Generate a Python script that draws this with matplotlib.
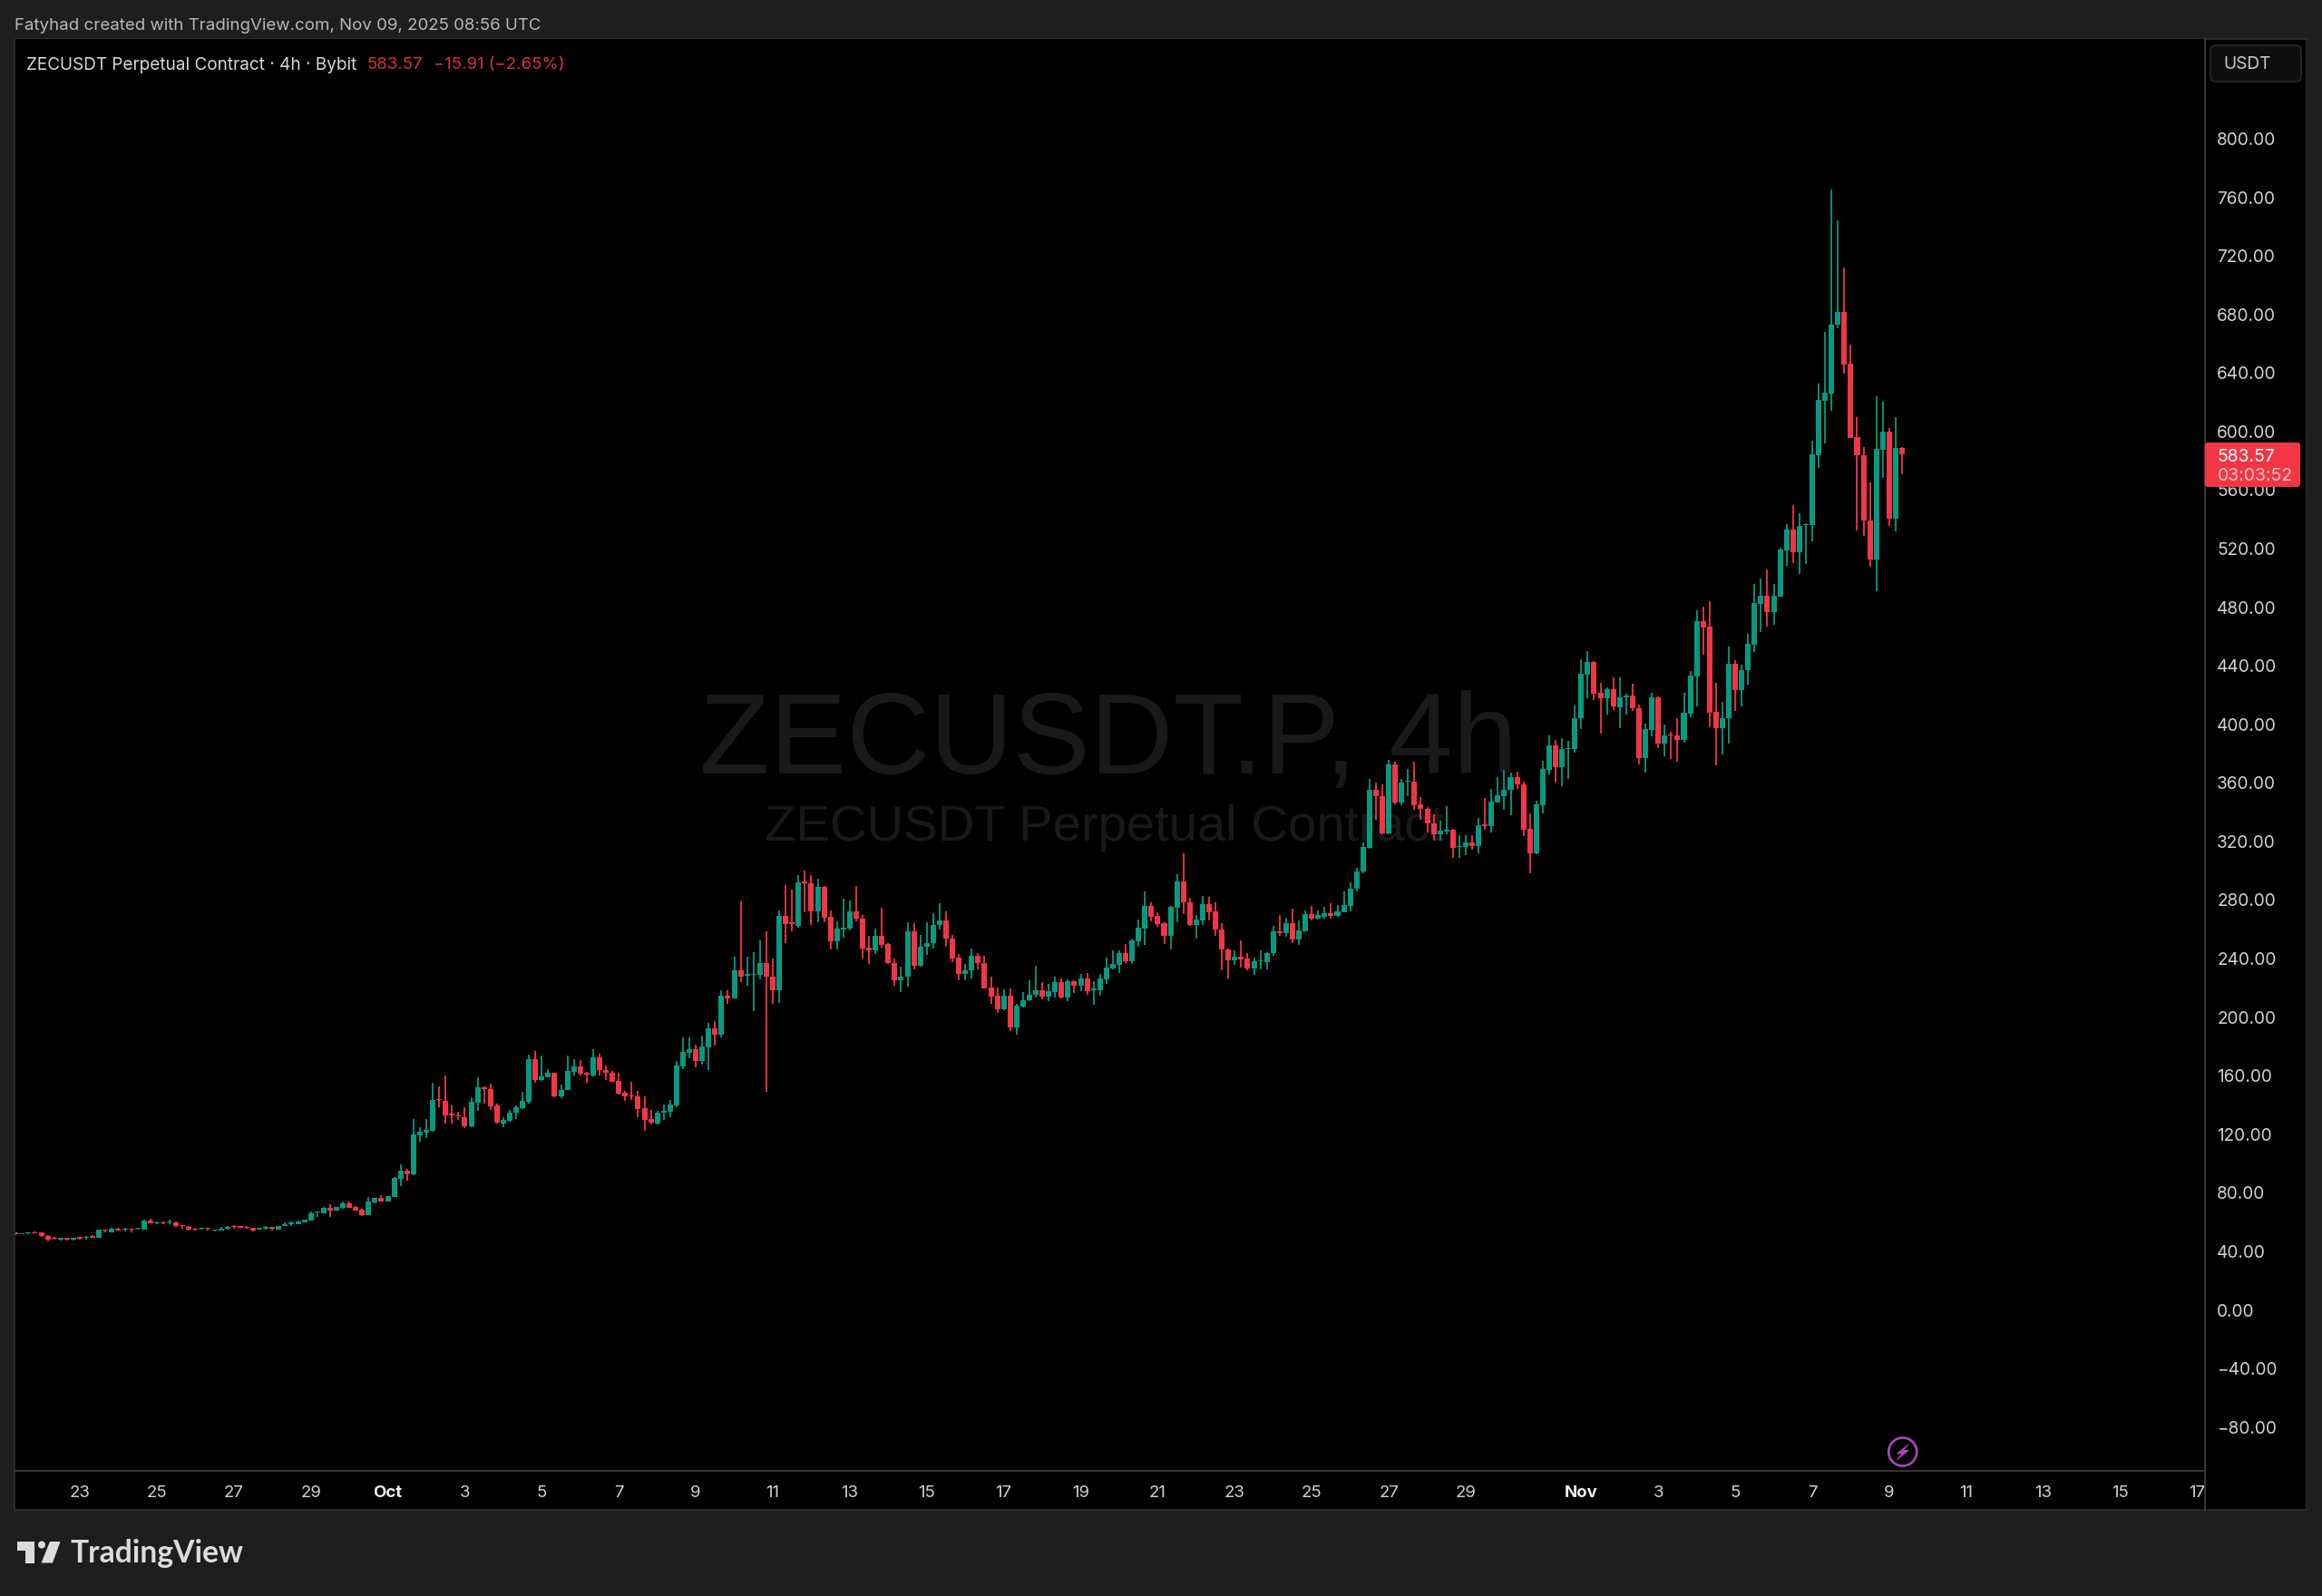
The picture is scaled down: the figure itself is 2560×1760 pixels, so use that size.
import matplotlib
matplotlib.use("Agg")
import matplotlib.pyplot as plt
from matplotlib.patches import Rectangle, FancyBboxPatch, Circle, Polygon
from matplotlib.transforms import Bbox, Affine2D

# ---------- data (4h candles, first bar is 10 bars before Sep 23 00:00) ----------
opens = [
52.0,51.1,51.6,52.4,52.0,49.9,48.7,47.4,48.2,47.0,
48.9,48.7,49.7,48.5,54.2,52.4,54.9,53.8,54.6,54.4,
54.2,60.2,58.2,59.2,58.8,59.2,57.1,55.7,54.6,54.4,
55.3,53.4,53.6,54.4,56.7,56.3,56.1,55.3,54.2,54.6,
55.7,54.2,56.7,57.7,57.7,59.2,60.2,65.6,65.4,69.1,
67.0,68.7,72.0,69.7,67.7,64.0,72.8,75.5,73.4,76.3,
88.7,94.5,
91.8,118.5,120.3,121.8,143.4,141.8,133.1,132.3,131.0,124.7,
141.0,151.3,150.3,138.9,126.7,128.2,133.8,137.0,141.4,170.3,
156.0,158.1,161.0,144.9,149.5,161.8,165.6,161.0,159.6,171.8,
163.3,161.4,155.6,147.8,145.7,144.9,137.0,129.8,126.5,133.8,
134.6,139.0,165.8,174.6,177.5,169.3,178.6,191.8,187.5,213.9,
212.0,231.4,227.7,228.1,228.1,236.4,227.1,217.8,268.4,263.8,
261.8,292.0,290.7,271.5,288.4,267.8,251.0,259.1,260.0,271.7,
266.7,246.7,244.9,255.0,249.2,236.4,224.2,226.7,257.9,234.1,
247.1,249.8,262.0,265.3,252.9,239.9,229.0,231.2,241.1,236.4,
219.2,213.9,204.4,213.9,192.0,206.5,210.6,214.5,217.6,213.1,
216.6,223.2,212.6,223.6,220.7,225.4,217.8,217.8,
225.0,232.3,235.1,242.8,237.2,251.0,260.0,275.0,268.2,263.4,
255.0,274.2,292.1,277.9,262.4,265.3,276.4,271.5,259.3,245.7,
237.8,240.7,239.3,232.5,237.2,237.0,242.8,257.9,256.6,263.2,
252.1,257.9,269.6,266.3,268.0,270.0,268.2,271.0,275.0,286.8,
298.5,314.8,354.3,350.4,324.5,372.0,345.8,359.9,360.3,344.4,
341.7,331.8,324.1,326.2,327.2,315.2,315.5,318.3,316.1,330.9,
329.5,346.0,350.4,354.5,362.9,358.0,327.8,311.3,343.9,367.9,
384.6,370.0,382.1,382.1,403.2,433.2,441.8,420.8,417.0,423.2,
411.0,417.7,418.7,410.4,375.9,395.4,417.9,386.0,392.5,391.4,
388.5,406.7,432.1,469.7,465.8,407.5,396.4,403.2,440.8,422.4,
436.0,453.6,481.5,487.2,475.7,486.4,518.2,532.2,517.0,535.1,
535.1,583.2,620.4,625.4,672.0,681.1,645.4,595.4,583.2,538.6,
511.6,586.8,599.3,539.9,588.2]
highs = [
52.2,51.9,52.5,52.6,52.2,50.2,49.3,48.3,48.4,48.5,
49.1,49.5,50.3,53.9,54.3,55.2,55.5,55.5,54.8,55.4,
60.6,61.3,59.6,59.4,60.8,59.4,57.3,56.3,55.3,55.4,
55.5,54.3,55.7,56.3,57.0,56.7,56.3,55.5,55.2,56.7,
55.9,56.7,58.8,59.4,60.4,61.0,66.4,66.7,69.7,71.2,
69.7,73.2,73.0,70.1,68.5,76.3,75.7,77.4,77.3,89.8,
98.4,95.6,
129.6,124.3,129.4,154.4,152.1,159.4,138.9,134.6,137.5,144.5,
157.9,152.0,153.8,140.4,131.0,135.6,138.7,148.0,173.4,176.1,
172.8,163.5,161.4,153.2,172.8,170.3,169.7,161.6,177.1,174.2,
166.2,162.5,161.0,148.6,155.0,148.6,145.4,135.6,135.2,139.3,
142.4,169.3,185.4,185.4,180.6,186.4,195.1,196.3,217.6,217.6,
240.7,278.0,240.7,243.6,251.9,257.7,239.5,272.1,289.4,286.4,
296.3,299.6,296.3,293.8,288.8,272.1,264.7,280.0,279.0,288.8,
268.8,255.0,260.0,273.8,249.6,239.5,233.5,264.1,263.2,255.4,
264.3,270.0,277.0,271.5,255.4,242.4,235.4,246.1,243.2,241.1,
226.7,219.7,218.2,218.8,208.3,216.4,224.6,234.3,223.0,222.1,
227.1,225.4,225.0,224.5,229.0,229.2,223.6,228.5,
239.9,244.6,245.0,249.0,252.1,265.7,284.9,277.7,271.0,263.9,
275.2,296.7,311.1,280.6,269.2,281.8,281.2,277.9,263.2,246.0,
244.6,251.9,243.2,239.7,244.6,243.6,261.8,269.0,267.1,273.1,
265.3,271.9,275.0,271.9,274.4,277.0,276.0,284.9,291.5,301.4,
318.3,361.7,359.6,358.2,375.1,373.7,361.7,368.9,373.7,349.5,
343.0,338.0,333.6,343.5,327.6,323.7,323.7,323.5,335.0,348.9,
355.3,363.4,367.9,366.0,366.9,360.3,338.2,346.8,374.3,391.6,
388.5,390.0,387.9,412.1,443.5,449.2,442.2,427.6,424.7,431.5,
431.5,420.3,426.8,412.9,399.7,420.8,418.3,398.9,393.9,403.2,
420.8,435.6,477.1,479.6,483.3,427.6,414.6,452.1,442.8,439.8,
461.0,494.9,498.6,505.0,495.0,519.7,535.8,549.0,543.6,536.8,
592.9,632.2,667.3,764.3,743.3,711.3,658.6,609.0,588.6,564.5,
623.3,619.4,601.8,609.0,588.4]
lows = [
50.5,51.0,51.0,51.5,49.4,46.0,47.4,46.8,46.8,46.9,
47.4,47.4,48.6,48.4,52.2,52.3,53.5,52.8,52.2,54.3,
54.1,58.3,57.8,57.8,57.8,55.9,54.6,53.7,53.6,54.3,
53.6,53.0,53.5,54.3,54.6,55.4,54.6,53.0,54.1,54.0,
53.6,54.1,56.6,56.7,57.6,59.1,60.1,62.9,65.3,62.5,
66.9,68.6,69.0,66.9,63.4,63.9,72.0,73.1,73.3,76.2,
84.0,87.3,
91.5,114.1,116.6,121.2,137.7,126.3,126.7,128.8,123.6,124.3,
135.2,140.2,135.6,126.7,124.3,128.0,129.6,136.2,140.0,154.6,
155.8,157.9,144.8,144.0,149.3,159.6,159.6,154.6,158.5,159.6,
156.5,155.0,146.6,142.0,142.4,130.7,121.8,126.0,126.0,129.2,
131.1,137.7,164.0,171.0,165.0,167.0,163.1,179.6,185.4,208.1,
211.8,223.2,220.7,203.6,225.0,148.4,208.1,209.1,250.0,258.1,
260.5,270.9,262.2,264.3,264.3,245.3,245.7,253.5,258.5,264.7,
239.3,235.4,242.4,246.5,235.6,220.7,216.4,220.0,232.0,234.0,
241.8,246.1,258.9,247.1,237.0,224.2,224.2,225.9,232.0,218.6,
208.1,202.3,204.0,189.5,187.0,205.6,210.4,212.4,211.6,210.0,
212.8,212.3,210.0,215.5,217.2,214.7,208.0,213.7,
221.9,231.6,229.2,236.4,235.4,247.3,248.8,264.9,261.2,249.4,
245.2,264.2,269.6,261.4,253.1,262.4,265.3,254.9,231.2,225.9,
234.9,232.9,231.0,228.3,231.6,232.1,240.9,254.8,254.1,249.8,
248.8,257.7,265.3,265.9,266.3,266.7,268.0,270.8,271.7,284.9,
297.3,314.2,333.8,324.3,324.3,344.8,344.0,350.0,340.6,334.0,
325.2,319.6,320.0,324.1,308.2,308.0,309.9,313.8,310.9,327.2,
325.4,345.8,340.6,336.9,355.1,323.1,297.7,310.3,338.6,365.0,
359.2,356.7,361.7,379.9,396.0,417.0,416.0,392.9,406.1,409.2,
396.8,406.1,408.2,372.0,366.0,391.0,382.8,377.4,375.7,373.5,
386.7,404.2,411.5,447.0,397.4,371.0,378.9,386.3,408.2,411.7,
426.3,448.8,462.0,466.0,467.4,486.2,507.7,509.5,502.1,508.9,
524.2,574.6,591.3,613.6,670.0,639.0,594.6,531.8,528.1,507.1,
489.9,567.8,534.9,531.0,570.2]
closes = [
50.7,51.8,52.4,51.6,49.5,47.4,47.6,48.2,47.4,48.4,
47.8,49.3,48.7,53.8,53.4,54.9,53.6,54.6,53.8,55.3,
60.2,58.4,59.2,58.2,59.8,56.3,56.5,53.8,54.0,55.3,
54.4,54.2,54.9,56.1,55.9,55.5,55.3,53.4,55.1,55.9,
54.6,56.3,57.7,58.8,59.8,60.8,65.4,66.4,68.9,67.2,
69.5,72.2,69.1,67.0,64.0,73.4,75.5,73.2,77.0,89.1,
94.3,91.8,
119.1,120.9,122.4,142.8,142.6,132.3,132.3,131.5,124.9,141.4,
151.3,149.9,138.5,126.9,128.8,134.0,137.5,142.0,170.3,156.0,
159.0,161.0,144.9,149.7,162.4,165.6,160.6,160.0,171.8,163.0,
161.0,155.2,147.2,144.9,144.9,136.7,129.2,127.0,134.2,135.2,
139.3,166.4,175.3,177.5,169.3,179.2,191.8,187.5,213.9,212.0,
231.4,226.7,228.5,229.0,236.4,226.7,217.8,268.4,262.8,263.0,
291.3,290.9,271.5,288.4,267.2,251.0,259.5,260.3,271.7,266.3,
246.0,244.9,255.0,248.6,236.0,224.2,226.9,257.9,234.1,247.5,
249.8,262.2,265.3,252.7,239.3,229.0,231.4,241.1,236.2,218.8,
213.5,204.6,213.9,192.0,207.1,210.8,214.7,217.8,213.1,216.8,
223.0,212.6,223.8,220.7,225.4,217.0,218.8,225.6,
232.9,235.4,242.8,237.2,251.5,260.3,275.0,267.6,262.6,255.0,
274.6,292.1,277.7,262.2,265.7,276.4,271.0,259.1,245.3,237.8,
240.7,238.9,232.5,237.2,238.0,243.2,257.9,256.6,263.2,252.1,
258.3,269.4,266.3,268.8,270.0,268.2,271.5,275.6,287.2,299.0,
315.5,354.3,350.0,324.5,372.0,345.8,359.2,360.7,343.9,341.3,
331.4,324.1,326.4,327.2,314.8,316.1,318.3,316.1,330.1,329.9,
346.4,350.6,354.7,362.9,358.0,327.4,311.3,344.4,368.5,384.6,
370.0,382.6,382.9,403.6,433.6,441.8,420.3,417.0,423.2,411.3,
417.9,418.7,410.2,375.9,395.8,417.9,386.0,391.8,391.6,388.5,
407.1,432.5,469.7,465.3,407.1,396.4,403.6,440.8,422.4,436.2,
454.0,481.9,487.2,475.7,486.8,518.6,532.2,517.0,534.7,536.2,
583.7,620.8,625.8,672.2,681.1,645.2,595.0,582.8,538.4,511.6,
587.2,599.3,539.9,588.2,583.57]
first_bar = -10
price_ticks = list(range(-80, 801, 40))
time_tick_bars = [0,12,24,36,48,60,72,84,96,108,120,132,144,156,168,180,192,204,216,234,246,258,270,282,294,306,318,330]
time_tick_labels = ["23","25","27","29","Oct","3","5","7","9","11","13","15","17","19","21","23","25","27","29","Nov","3","5","7","9","11","13","15","17"]
last_price = 583.57
title_text = "ZECUSDT Perpetual Contract · 4h · Bybit"
assert len(opens) == len(highs) == len(lows) == len(closes) == 295

# ---------- styling ----------
W, H = 2560, 1760
GREEN, RED = "#089981", "#F23645"
BG, CHART = "#1E1E1E", "#000000"
LINE, FRAME = "#434343", "#2E2E2E"
TXT = "#D1D1D1"
FONT = ["Inter", "DejaVu Sans"]
plt.rcParams["font.family"] = FONT

fig = plt.figure(figsize=(W/100, H/100), dpi=100, facecolor=BG)
def px_rect(l, t, r, b):
    return [l/W, 1-b/H, (r-l)/W, (b-t)/H]
def T(x, y, s, **kw):
    kw.setdefault("va", "center")
    return fig.text(x/W, 1-y/H, s, **kw)
pix = Affine2D().scale(1, -1).translate(0, H)   # pixels from top-left

# outer frame
fig.add_artist(Rectangle((16, 42.5), 2527, 1622, transform=pix, fc=CHART, ec=FRAME, lw=1.2, zorder=0))

# main pane
L, R, TOP, BOT = 16.5, 2431, 43, 1621.5
ax = fig.add_axes(px_rect(L, TOP, R, BOT), facecolor=CHART)
ppd, x0 = 7.074, 88.0
ax.set_xlim((L-x0)/ppd, (R-x0)/ppd)
pp, y0 = 1.6144, 1443.3
ax.set_ylim((y0-BOT)/pp, (y0-TOP)/pp)

# watermark
ax.text(0.4991, 0.508, "ZECUSDT.P, 4h", transform=ax.transAxes, family="Liberation Sans", fontsize=91.5,
        color="#19191C", ha="center", va="center", zorder=1)
ax.text(0.4974, 0.449, "ZECUSDT Perpetual Contract", transform=ax.transAxes, family="Liberation Sans", fontsize=40.5,
        color="#19191C", ha="center", va="center", zorder=1)

# candles
idx = [first_bar + i for i in range(len(opens))]
colors = [GREEN if c >= o else RED for o, c in zip(opens, closes)]
ax.vlines(idx, lows, highs, colors=colors, lw=1.3, zorder=3)
ax.bar(idx, [abs(c-o) for o, c in zip(opens, closes)], bottom=[min(o, c) for o, c in zip(opens, closes)],
       width=0.85, color=colors, lw=0, zorder=4)

# axes
for s in ("top", "left"):
    ax.spines[s].set_visible(False)
for s in ("right", "bottom"):
    ax.spines[s].set_color(LINE)
    ax.spines[s].set_linewidth(1.2)
ax.yaxis.tick_right()
ax.set_yticks(price_ticks)
ax.set_yticklabels([f"{v:.2f}".replace("-", "\u2212") for v in price_ticks], ha="left", color=TXT, fontsize=13.7)
ax.tick_params(axis="y", length=0, pad=9.5)
ax.set_xticks(time_tick_bars)
ax.set_xticklabels(time_tick_labels, color=TXT, fontsize=13.4)
ax.tick_params(axis="x", length=0, pad=12)
clip = Bbox.from_extents(0, 0, R, H)
for lb in ax.get_xticklabels():
    lb.set_clip_box(clip)
    lb.set_clip_on(True)
    if lb.get_text() in ("Oct", "Nov"):
        lb.set_fontweight("bold")
        lb.set_color("#F0F0F0")
for lb in ax.get_yticklabels():
    lb.set_transform(lb.get_transform() + Affine2D().translate(0, -1.2))
ax.set_zorder(2)

# separator through the time axis
fig.add_artist(plt.Line2D([R, R], [BOT, 1664.5], transform=pix, color=LINE, lw=1.2, zorder=5))

# header & legend
T(16, 28.5, "Fatyhad created with TradingView.com, Nov 09, 2025 08:56 UTC", color="#B8B8B8", fontsize=13.45)
T(29, 72, title_text, color="#D6D6D6", fontsize=13.65)
T(405, 72, f"{last_price:.2f}", color="#D9303E", fontsize=13.4)
T(478, 72, "\u221215.91 (\u22122.65%)", color="#D9303E", fontsize=13.4)

# currency button
fig.add_artist(FancyBboxPatch((2437, 50), 100, 40, boxstyle="round,pad=0,rounding_size=6", transform=pix,
                              fc="#0F0F0F", ec="#2A2A2A", lw=1.2, zorder=6))
T(2451, 71, "USDT", color="#C8C8C8", fontsize=13.8, zorder=7)

# price tag
fig.add_artist(FancyBboxPatch((2431, 488), 105, 49, boxstyle="round,pad=0,rounding_size=3", transform=pix,
                              fc=RED, ec="none", zorder=6))
T(2445, 504, f"{last_price:.2f}", color="#FFFFFF", fontsize=14, zorder=7)
T(2445, 525.5, "03:03:52", color="#FFC4CA", fontsize=14, zorder=7)

# bolt marker
PUR = "#AB47BC"
fig.add_artist(Circle((2097.7, 1601), 15.5, transform=pix, fc="none", ec=PUR, lw=1.9, zorder=6))
fig.add_artist(Polygon([(2104, 1593), (2091.5, 1603), (2097.5, 1603), (2091.5, 1609.5), (2104, 1599.5), (2098, 1599.5)],
                       closed=True, transform=pix, fc=PUR, ec=PUR, lw=0.7, zorder=6))

# logo
LOGO = "#DCDCDC"
fig.add_artist(Polygon([(19, 1700), (38, 1700), (38, 1723.5), (28, 1723.5), (28, 1710), (19, 1710)], closed=True,
                       transform=pix, fc=LOGO, ec="none", zorder=6))
fig.add_artist(Circle((46, 1703.5), 4, transform=pix, fc=LOGO, ec="none", zorder=6))
fig.add_artist(Polygon([(55, 1700), (66.5, 1700), (58, 1723.5), (45.5, 1723.5)], closed=True,
                       transform=pix, fc=LOGO, ec="none", zorder=6))
T(77, 1713, "TradingView", color=LOGO, fontsize=24.2, fontweight="bold", family=["Lato", "DejaVu Sans"])

fig.savefig("out.png", dpi=100, facecolor=BG)
